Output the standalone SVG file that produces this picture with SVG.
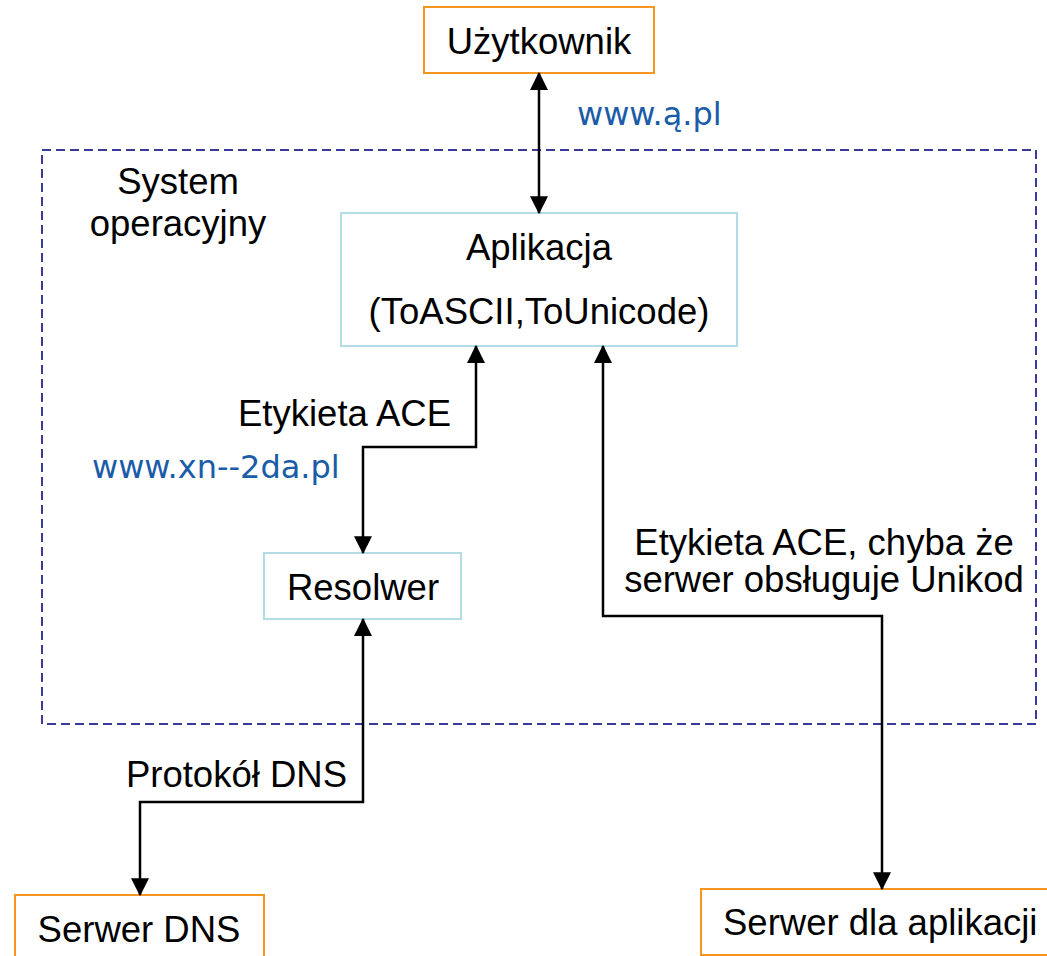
<svg xmlns="http://www.w3.org/2000/svg" width="1047" height="956" viewBox="0 0 1047 956">
<style>
  .t { font-family: "Liberation Sans", Arial, sans-serif; font-size: 36.5px; fill: #000; }
  .b { font-family: "DejaVu Sans", Verdana, sans-serif; font-size: 32px; fill: #1a5ca8; }
  .ext { fill: #fff; stroke: #f7961f; stroke-width: 2; }
  .int { fill: #fff; stroke: #b2dde4; stroke-width: 2; }
  .conn { fill: none; stroke: #000; stroke-width: 2.5; }
</style>
<defs>
  <marker id="ah" markerUnits="userSpaceOnUse" markerWidth="18" markerHeight="18" refX="15" refY="8" orient="auto-start-reverse" viewBox="0 0 16 16">
    <path d="M0,0 L16,8 L0,16 Z" fill="#000"/>
  </marker>
</defs>
<rect width="1047" height="956" fill="#fff"/>
<g id="system">
  <rect x="42" y="150" width="994" height="574" fill="none" stroke="#3a3a9a" stroke-width="2" stroke-dasharray="9,5"/>
  <text class="t" x="178" y="194" text-anchor="middle">System</text>
  <text class="t" x="178" y="236" text-anchor="middle">operacyjny</text>
</g>
<g id="uzytkownik">
  <rect class="ext" x="424" y="7" width="230" height="66"/>
  <text class="t" x="539" y="54" text-anchor="middle">Użytkownik</text>
</g>
<g id="aplikacja">
  <rect class="int" x="341" y="213" width="396" height="133"/>
  <text class="t" x="539" y="260" text-anchor="middle">Aplikacja</text>
  <text class="t" x="539" y="324" text-anchor="middle">(ToASCII,ToUnicode)</text>
</g>
<g id="resolwer">
  <rect class="int" x="264" y="553" width="197" height="66"/>
  <text class="t" x="363" y="600" text-anchor="middle">Resolwer</text>
</g>
<g id="serwer-dns">
  <rect class="ext" x="15" y="895" width="249" height="70"/>
  <text class="t" x="139" y="942" text-anchor="middle">Serwer DNS</text>
</g>
<g id="serwer-aplikacji">
  <rect class="ext" x="701" y="889" width="360" height="66"/>
  <text class="t" x="723" y="935">Serwer dla aplikacji</text>
</g>
<g id="connectors">
  <path class="conn" d="M539,73 L539,213" marker-start="url(#ah)" marker-end="url(#ah)"/>
  <path class="conn" d="M476,346 L476,447 L363,447 L363,553" marker-start="url(#ah)" marker-end="url(#ah)"/>
  <path class="conn" d="M363,619 L363,802 L140,802 L140,895" marker-start="url(#ah)" marker-end="url(#ah)"/>
  <path class="conn" d="M603,346 L603,616 L882,616 L882,889" marker-start="url(#ah)" marker-end="url(#ah)"/>
</g>
<g id="labels">
  <text class="b" x="577" y="125">www.ą.pl</text>
  <text class="t" x="451" y="426" text-anchor="end">Etykieta ACE</text>
  <text class="b" x="92" y="478">www.xn--2da.pl</text>
  <text class="t" x="824" y="555" text-anchor="middle">Etykieta ACE, chyba że</text>
  <text class="t" x="824" y="592" text-anchor="middle">serwer obsługuje Unikod</text>
  <text class="t" x="347" y="787" text-anchor="end">Protokół DNS</text>
</g>
</svg>
